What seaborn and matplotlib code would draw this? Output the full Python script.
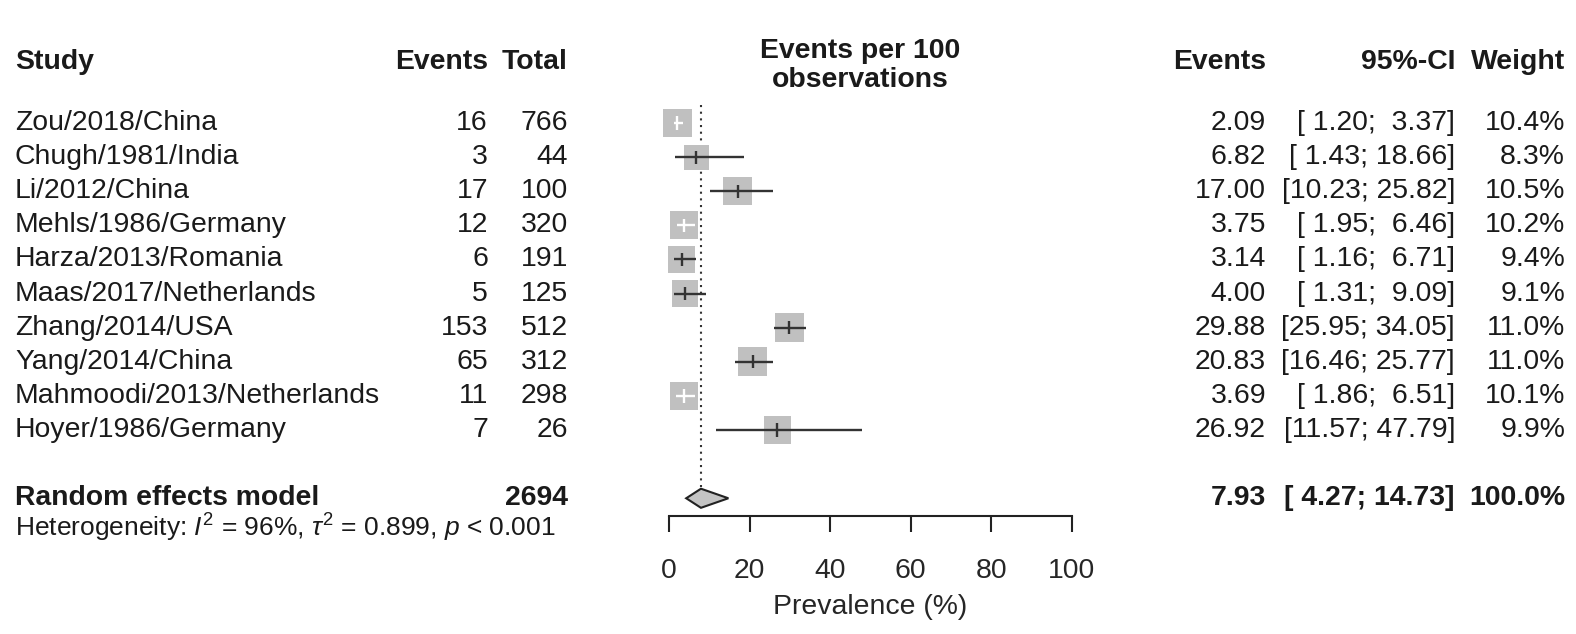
import numpy as np
import pandas as pd
import matplotlib
matplotlib.use("Agg")
import matplotlib.pyplot as plt
import matplotlib.transforms as mtransforms
import seaborn as sns

# data
studies = ["Zou/2018/China", "Chugh/1981/India", "Li/2012/China", "Mehls/1986/Germany",
           "Harza/2013/Romania", "Maas/2017/Netherlands", "Zhang/2014/USA", "Yang/2014/China",
           "Mahmoodi/2013/Netherlands", "Hoyer/1986/Germany"]
events = [16, 3, 17, 12, 6, 5, 153, 65, 11, 7]
totals = [766, 44, 100, 320, 191, 125, 512, 312, 298, 26]
rates = [2.09, 6.82, 17.00, 3.75, 3.14, 4.00, 29.88, 20.83, 3.69, 26.92]
ci_low = [1.20, 1.43, 10.23, 1.95, 1.16, 1.31, 25.95, 16.46, 1.86, 11.57]
ci_high = [3.37, 18.66, 25.82, 6.46, 6.71, 9.09, 34.05, 25.77, 6.51, 47.79]
weights = [10.4, 8.3, 10.5, 10.2, 9.4, 9.1, 11.0, 11.0, 10.1, 9.9]

re_total = 2694
re_rate, re_low, re_high = 7.93, 4.27, 14.73
re_weight = 100.0
het_text = r"Heterogeneity: $I^2$ = 96%, $\tau^2$ = 0.899, $p$ < 0.001"
xticks = [0, 20, 40, 60, 80, 100]

sns.set_theme(style="white")
plt.rcParams['font.family'] = ['Liberation Sans', 'DejaVu Sans']
plt.rcParams['mathtext.fontset'] = 'custom'
plt.rcParams['mathtext.rm'] = 'Liberation Sans'
plt.rcParams['mathtext.it'] = 'Liberation Sans:italic'
plt.rcParams['mathtext.sf'] = 'Liberation Sans'
FS = 20.4

fig = plt.figure(figsize=(15.76, 6.34), dpi=100)
ax = fig.add_axes([669/1576, 1 - 516/634, 403/1576, (516 - 88.9)/634])

df = pd.DataFrame({"study": studies, "rate": rates, "lo": ci_low, "hi": ci_high,
                   "w": weights, "row": np.arange(len(studies))})

# square side ~ sqrt(weight), about 29px for 11%  -> area in pt^2 linear in weight
k_area = (29 * 0.72) ** 2 / 11.0
px_per_unit = 403 / 100
half = 29 * np.sqrt(df["w"] / 11.0) / 2 / px_per_unit
inside = (df["rate"] - half < df["lo"]) & (df["rate"] + half > df["hi"])
df["ci_col"] = np.where(inside, "white", "#333333")

wmin, wmax = df["w"].min(), df["w"].max()
sns.scatterplot(data=df, x="rate", y="row", size="w",
                sizes=(k_area * wmin, k_area * wmax), size_norm=(wmin, wmax),
                marker="s", color="#c0c0c0", edgecolor="none", legend=False, ax=ax,
                zorder=2, clip_on=False)

ax.hlines(df["row"], df["lo"], df["hi"], colors=df["ci_col"], lw=1.7, zorder=3, clip_on=False)
ax.scatter(df["rate"], df["row"], marker="|", s=90, c=df["ci_col"], linewidths=1.7,
           zorder=4, clip_on=False)

# reference line at pooled estimate
ax.vlines(re_rate, -0.53, 10.67, colors="#333333", linestyles=(0, (1, 2.2)), lw=1.5, zorder=1)

# pooled diamond
r_sum = 11.0
ax.fill([re_low, re_rate, re_high, re_rate], [r_sum, r_sum - 0.28, r_sum, r_sum + 0.28],
        facecolor="#c4c4c4", edgecolor="#222222", lw=1.5, zorder=3)

ax.set_xlim(0, 100)
ax.set_ylim(11.52, -1)
ax.set_yticks([])
ax.set_xticks(xticks)
ax.set_xticklabels([str(t) for t in xticks], fontsize=FS)
ax.set_xlabel("Prevalence (%)", fontsize=FS, labelpad=7)
ax.set_ylabel("")
for s in ["top", "left", "right"]:
    ax.spines[s].set_visible(False)
ax.spines["bottom"].set_linewidth(1.5)
ax.spines["bottom"].set_color("#222222")
ax.spines["bottom"].set_bounds(0, 100)
ax.tick_params(axis="x", direction="out", length=11.5, width=1.5, color="#222222",
               pad=19, bottom=True)
ax.patch.set_alpha(0)

tr = mtransforms.blended_transform_factory(fig.transFigure, ax.transData)
col = "#1a1a1a"

def put(x, y, s, ha="left", bold=False, size=FS):
    ax.text(x / 1576, y, s, transform=tr, ha=ha, va="center", fontsize=size,
            fontweight="bold" if bold else "normal", color=col, clip_on=False)

# column right edges in pixels
X_STUDY, X_EV, X_TOT = 15, 488, 568
X_RATE, X_CI, X_W = 1266, 1455, 1565

# headers
hy = -1.79
put(X_STUDY, hy, "Study", bold=True)
put(X_EV, hy, "Events", ha="right", bold=True)
put(X_TOT, hy, "Total", ha="right", bold=True)
put(X_RATE, hy, "Events", ha="right", bold=True)
put(X_CI, hy, "95%-CI", ha="right", bold=True)
put(X_W, hy, "Weight", ha="right", bold=True)
put(860, -2.1, "Events per 100", ha="center", bold=True)
put(860, -1.25, "observations", ha="center", bold=True)

for i in range(len(studies)):
    put(X_STUDY, i, studies[i])
    put(X_EV, i, str(events[i]), ha="right")
    put(X_TOT, i, str(totals[i]), ha="right")
    put(X_RATE, i, f"{rates[i]:.2f}", ha="right")
    put(X_CI, i, f"[{ci_low[i]:5.2f}; {ci_high[i]:5.2f}]", ha="right")
    put(X_W, i, f"{weights[i]:.1f}%", ha="right")

put(X_STUDY, r_sum, "Random effects model", bold=True)
put(X_TOT, r_sum, str(re_total), ha="right", bold=True)
put(X_RATE, r_sum, f"{re_rate:.2f}", ha="right", bold=True)
put(X_CI, r_sum, f"[{re_low:5.2f}; {re_high:5.2f}]", ha="right", bold=True)
put(X_W, r_sum, f"{re_weight:.1f}%", ha="right", bold=True)
put(X_STUDY, 11.87, het_text, size=19)

fig.savefig("out.png", dpi=100, facecolor="white")
